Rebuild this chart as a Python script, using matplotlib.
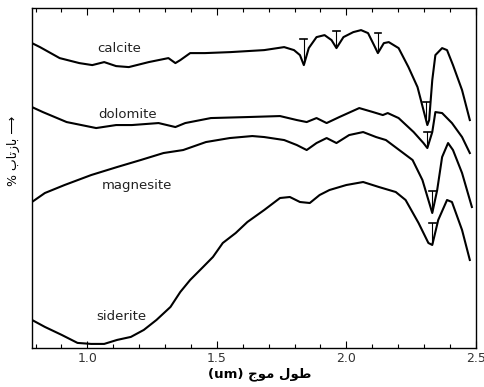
import numpy as np
import matplotlib
matplotlib.use("Agg")
import matplotlib.pyplot as plt
from matplotlib.ticker import MultipleLocator

# wavelength (um) and relative reflectance (arbitrary units)
calcite_x = [0.786, 0.817, 0.893, 0.969, 1.019, 1.065, 1.111, 1.160, 1.237, 1.313, 1.340, 1.359,
             1.397, 1.454, 1.553, 1.683, 1.760, 1.798, 1.821, 1.836, 1.855, 1.885, 1.916, 1.943,
             1.962, 1.989, 2.027, 2.057, 2.084, 2.107, 2.122, 2.145, 2.164, 2.202, 2.240, 2.275,
             2.298, 2.313, 2.320, 2.332, 2.344, 2.370, 2.389, 2.412, 2.447, 2.477]
calcite_y = [305, 301, 290, 285, 283, 286, 282, 281, 286, 290, 285, 288,
             295, 295, 296, 298, 301, 298, 293, 283, 300, 311, 313, 308,
             300, 311, 316, 318, 315, 303, 295, 305, 306, 300, 281, 261,
             238, 223, 228, 268, 293, 300, 298, 283, 258, 228]

dolomite_x = [0.786, 0.828, 0.920, 1.034, 1.111, 1.172, 1.275, 1.340, 1.378, 1.477, 1.618, 1.744,
              1.809, 1.847, 1.885, 1.924, 1.973, 2.050, 2.103, 2.141, 2.160, 2.202, 2.260, 2.298,
              2.313, 2.332, 2.344, 2.370, 2.408, 2.447, 2.477]
dolomite_y = [241, 236, 226, 220, 223, 223, 225, 221, 225, 230, 231, 232,
              228, 226, 230, 225, 231, 240, 236, 233, 235, 230, 216, 205,
              200, 216, 236, 235, 225, 211, 195]

magnesite_x = [0.786, 0.836, 0.912, 1.015, 1.115, 1.206, 1.294, 1.370, 1.458, 1.550, 1.637, 1.683,
               1.760, 1.809, 1.847, 1.885, 1.924, 1.962, 2.011, 2.065, 2.115, 2.153, 2.256, 2.294,
               2.317, 2.332, 2.351, 2.370, 2.393, 2.412, 2.447, 2.485]
magnesite_y = [146, 155, 163, 173, 181, 188, 195, 198, 206, 210, 212, 211,
               208, 203, 198, 205, 210, 205, 213, 216, 211, 208, 188, 168,
               148, 135, 158, 191, 205, 198, 175, 141]

siderite_x = [0.786, 0.836, 0.901, 0.962, 1.015, 1.065, 1.115, 1.168, 1.218, 1.267, 1.321, 1.359,
              1.397, 1.447, 1.485, 1.523, 1.573, 1.618, 1.683, 1.744, 1.782, 1.821, 1.859, 1.897,
              1.935, 2.000, 2.065, 2.126, 2.191, 2.229, 2.279, 2.317, 2.332, 2.355, 2.389, 2.408,
              2.447, 2.477]
siderite_y = [28, 21, 13, 5, 4, 4, 8, 11, 18, 28, 41, 56,
              68, 81, 91, 105, 115, 126, 138, 150, 151, 146, 145, 153,
              158, 163, 166, 161, 156, 148, 125, 105, 103, 128, 148, 146,
              118, 88]

# curve labels
names = ["calcite", "dolomite", "magnesite", "siderite"]
label_x = [1.122, 1.157, 1.191, 1.130]
label_y = [300, 234, 163, 31]

# absorption band markers (wavelength, top of the T) per curve
band_x = [[1.836, 1.962, 2.122, 2.309], [2.313], [2.332], [2.332]]
band_top = [[309, 317, 315, 246], [216], [157], [125]]

xs = [calcite_x, dolomite_x, magnesite_x, siderite_x]
ys = [calcite_y, dolomite_y, magnesite_y, siderite_y]

fig = plt.figure(figsize=(4.84, 3.87), dpi=100)
ax = fig.add_axes([0.066, 0.101, 0.917, 0.878])

for x, y, name, lx, ly, bx, bt in zip(xs, ys, names, label_x, label_y, band_x, band_top):
    ax.plot(x, y, color="black", lw=1.5, solid_joinstyle="round")
    ax.text(lx, ly, name, ha="center", va="center", fontsize=9.5, color="#222222")
    for b, t in zip(bx, bt):
        bottom = np.interp(b, x, y)
        ax.plot([b, b], [t, bottom + 2], color="black", lw=0.8)
        ax.plot([b - 0.013, b + 0.013], [t, t], color="black", lw=1.2)

ax.set_xlim(0.786, 2.485)
ax.set_ylim(0, 340)
ax.xaxis.set_minor_locator(MultipleLocator(0.1))
ax.set_xticks([1.0, 1.5, 2.0, 2.5])
ax.set_xticklabels(["1.0", "1.5", "2.0", "2.5"])
ax.tick_params(axis="x", which="major", direction="in", length=5, width=0.8,
               top=True, labelsize=9, labelcolor="#333333", pad=3)
ax.tick_params(axis="x", which="minor", direction="in", length=3, width=0.8, top=True)
ax.set_yticks([])
for s in ax.spines.values():
    s.set_linewidth(1.0)

# Arabic text given in visual order with presentation forms
ylabel = "% " + "\uFE8F\uFE8E\uFE97\uFEAF\uFE8E\uFE91" + " \u27F6"
fig.text(0.027, 0.61, ylabel, rotation=90, ha="center", va="center", fontsize=9)

xlabel = "(um) " + "\uFE9D\uFEEE\uFEE3" + " " + "\uFEDD\uFEEE\uFEC3"
fig.text(0.537, 0.032, xlabel, ha="center", va="center", fontsize=9.5, fontweight="bold")

fig.savefig("out.png", dpi=100)
